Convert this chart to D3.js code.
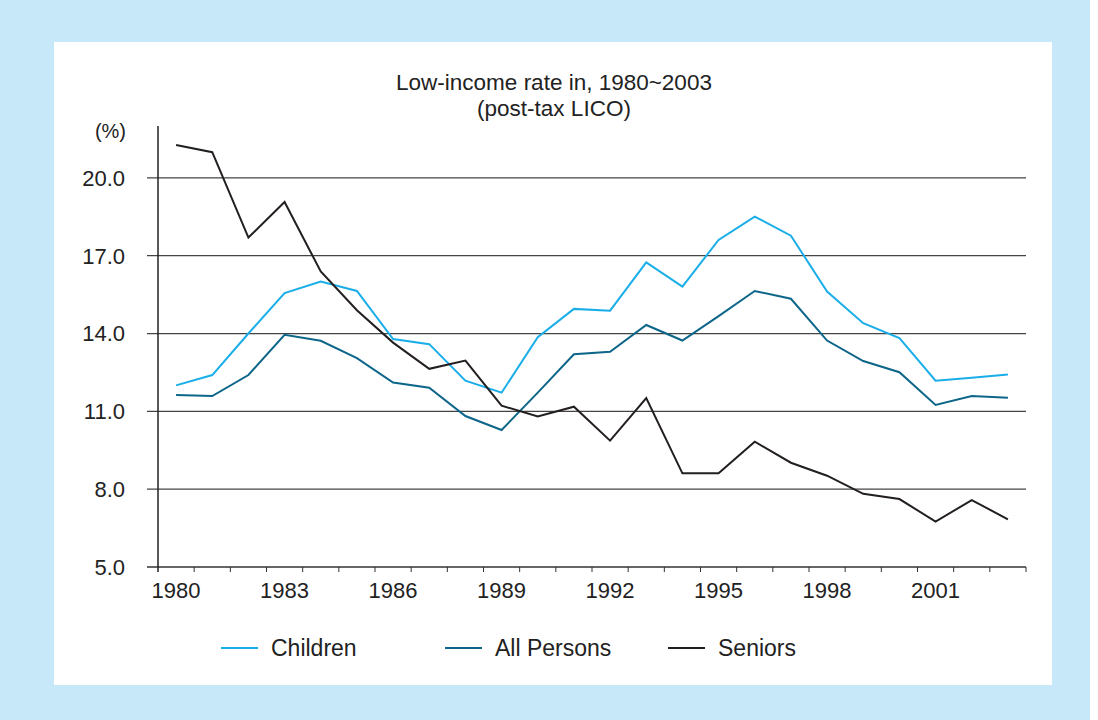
<!DOCTYPE html>
<html>
<head>
<meta charset="utf-8">
<script src="https://cdn.jsdelivr.net/npm/d3@7"></script>
<style>
  body { margin: 0; background: #fff; }
  svg { display: block; font-family: "Liberation Sans", Arial, sans-serif; }
</style>
</head>
<body>
<svg id="chart" width="1098" height="720"></svg>
<script>
// years on the x axis
const years = d3.range(1980, 2004);
const tickYears = [1980, 1983, 1986, 1989, 1992, 1995, 1998, 2001];
const yTicks = [5, 8, 11, 14, 17, 20];

// low-income rate (%)
const children = [12.0, 12.4, 14.0, 15.56, 16.0, 15.64, 13.79, 13.59, 12.18, 11.72, 13.86, 14.95,
  14.88, 16.74, 15.81, 17.61, 18.51, 17.77, 15.62, 14.40, 13.82, 12.18, 12.30, 12.42];
const allPersons = [11.63, 11.59, 12.40, 13.95, 13.72, 13.05, 12.11, 11.91, 10.82, 10.28, 11.72, 13.20,
  13.30, 14.33, 13.73, 14.67, 15.64, 15.34, 13.73, 12.94, 12.51, 11.25, 11.59, 11.52];
const seniors = [21.27, 20.99, 17.70, 19.07, 16.39, 14.9, 13.65, 12.64, 12.96, 11.22, 10.80, 11.18,
  9.87, 11.51, 8.61, 8.61, 9.83, 9.02, 8.52, 7.82, 7.62, 6.75, 7.58, 6.84];

const series = [
  { name: "Children", values: children, color: "#1aaee9" },
  { name: "All Persons", values: allPersons, color: "#0d6689" },
  { name: "Seniors", values: seniors, color: "#231f20" }
];

const svg = d3.select("#chart");

// backgrounds
svg.append("rect").attr("x", 0).attr("y", 0).attr("width", 1090).attr("height", 720).attr("fill", "#c6e8f8");
svg.append("rect").attr("x", 54).attr("y", 42).attr("width", 998).attr("height", 643).attr("fill", "#fff");

const plotLeft = 158, plotRight = 1026, plotTop = 126, plotBottom = 567;

const x = d3.scaleBand().domain(years).range([plotLeft, plotRight]);
const y = d3.scaleLinear().domain([5, 22]).range([plotBottom, plotTop]);

// horizontal grid lines
svg.append("g")
  .selectAll("line")
  .data(yTicks.slice(1))
  .join("line")
  .attr("x1", plotLeft - 11).attr("x2", plotRight)
  .attr("y1", d => y(d)).attr("y2", d => y(d))
  .attr("stroke", "#444").attr("stroke-width", 1.2);

// x axis
const xAxis = svg.append("g")
  .attr("transform", `translate(0,${plotBottom})`)
  .call(d3.axisBottom(x).tickSize(0).tickValues(tickYears).tickPadding(15));
xAxis.select(".domain").remove();
xAxis.selectAll("text").attr("font-size", 22).attr("fill", "#222")
  .attr("font-family", "Liberation Sans, Arial, sans-serif");

// band boundary ticks
svg.append("g")
  .selectAll("line")
  .data(years.slice(1).concat([null]))
  .join("line")
  .attr("x1", d => d === null ? plotRight : x(d))
  .attr("x2", d => d === null ? plotRight : x(d))
  .attr("y1", plotBottom).attr("y2", plotBottom + 5)
  .attr("stroke", "#333").attr("stroke-width", 1);

svg.append("line")
  .attr("x1", plotLeft - 11).attr("x2", plotRight)
  .attr("y1", plotBottom).attr("y2", plotBottom)
  .attr("stroke", "#333").attr("stroke-width", 1.3);

// y axis
svg.append("line")
  .attr("x1", plotLeft).attr("x2", plotLeft)
  .attr("y1", plotTop).attr("y2", plotBottom + 5)
  .attr("stroke", "#222").attr("stroke-width", 1.5);

svg.append("g")
  .selectAll("text")
  .data(yTicks)
  .join("text")
  .attr("x", 125)
  .attr("y", d => y(d))
  .attr("dy", "0.36em")
  .attr("text-anchor", "end")
  .attr("font-size", 22)
  .attr("fill", "#222")
  .text(d => d.toFixed(1));

svg.append("text")
  .attr("x", 126).attr("y", 138)
  .attr("text-anchor", "end")
  .attr("font-size", 20)
  .attr("fill", "#222")
  .text("(%)");

// title
const title = svg.append("text")
  .attr("x", 554).attr("text-anchor", "middle")
  .attr("font-size", 22.5).attr("fill", "#222");
title.append("tspan").attr("x", 554).attr("y", 90).text("Low-income rate in, 1980~2003");
title.append("tspan").attr("x", 554).attr("y", 116).text("(post-tax LICO)");

// lines
const line = d3.line()
  .x((d, i) => x(years[i]) + x.bandwidth() / 2)
  .y(d => y(d));

svg.append("g")
  .selectAll("path")
  .data(series)
  .join("path")
  .attr("d", d => line(d.values))
  .attr("fill", "none")
  .attr("stroke", d => d.color)
  .attr("stroke-width", 2)
  .attr("stroke-linejoin", "miter");

// legend
const legendX = [221, 445, 668];
const legend = svg.append("g")
  .selectAll("g")
  .data(series)
  .join("g")
  .attr("transform", (d, i) => `translate(${legendX[i]},648)`);

legend.append("line")
  .attr("x1", 0).attr("x2", 37)
  .attr("stroke", d => d.color).attr("stroke-width", 2);

legend.append("text")
  .attr("x", 50).attr("dy", "0.36em")
  .attr("font-size", 23).attr("fill", "#222")
  .text(d => d.name);
</script>
</body>
</html>
